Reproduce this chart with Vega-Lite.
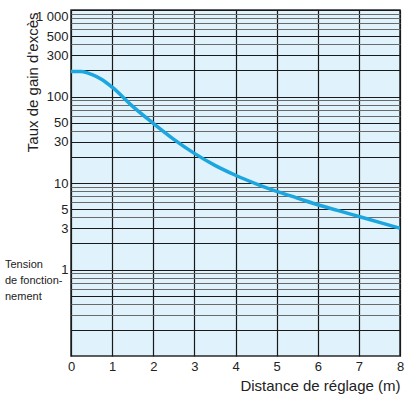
{
  "$schema": "https://vega.github.io/schema/vega-lite/v6.json",
  "width": 329,
  "height": 346,
  "autosize": {"type": "none"},
  "padding": {"left": 71, "top": 10, "right": 6, "bottom": 48},
  "background": "white",
  "config": {
    "font": "Liberation Sans",
    "view": {"fill": "#e0f2fb", "stroke": "#2a2a2a", "strokeWidth": 1.5},
    "axis": {"labelFont": "Liberation Sans", "titleFont": "Liberation Sans", "labelColor": "#222", "titleColor": "#222", "titleFontWeight": "normal"}
  },
  "layer": [
    {
      "data": {"values": [
        {"d": 0, "g": 195},
        {"d": 0.25, "g": 194},
        {"d": 0.5, "g": 180},
        {"d": 0.75, "g": 157},
        {"d": 1, "g": 128},
        {"d": 1.5, "g": 77},
        {"d": 2, "g": 49},
        {"d": 2.5, "g": 32},
        {"d": 3, "g": 22},
        {"d": 3.5, "g": 16},
        {"d": 4, "g": 12.3},
        {"d": 4.5, "g": 9.8},
        {"d": 5, "g": 8.0},
        {"d": 5.5, "g": 6.7},
        {"d": 6, "g": 5.6},
        {"d": 6.5, "g": 4.8},
        {"d": 7, "g": 4.1},
        {"d": 7.5, "g": 3.5},
        {"d": 8, "g": 3.0}
      ]},
      "mark": {"type": "line", "color": "#1ba6df", "strokeWidth": 3.5, "interpolate": "monotone", "clip": true},
      "encoding": {
        "x": {
          "field": "d", "type": "quantitative",
          "scale": {"domain": [0, 8], "nice": false, "zero": false},
          "axis": {
            "title": "Distance de réglage (m)",
            "values": [0, 1, 2, 3, 4, 5, 6, 7, 8],
            "format": "d",
            "domain": false,
            "ticks": false,
            "labelFontSize": 13,
            "labelPadding": 4,
            "labelFlush": false,
            "grid": true,
            "gridColor": "#1a1a1a",
            "gridWidth": 1.2,
            "gridOpacity": 1,
            "titleFontSize": 15,
            "titleAnchor": "end",
            "titleAlign": "right",
            "titlePadding": 5
          }
        },
        "y": {
          "field": "g", "type": "quantitative",
          "scale": {"type": "log", "domain": [0.1, 1000], "nice": false},
          "axis": {
            "title": "Taux de gain d'excès",
            "values": [0.2, 0.3, 0.4, 0.5, 0.6, 0.7, 0.8, 0.9, 1, 2, 3, 4, 5, 6, 7, 8, 9, 10, 20, 30, 40, 50, 60, 70, 80, 90, 100, 200, 300, 400, 500, 600, 700, 800, 900, 1000],
            "labelExpr": "datum.value == 1000 ? '1 000' : (indexof([1, 3, 5, 10, 30, 50, 100, 300, 500], datum.value) >= 0 ? datum.label : '')",
            "domain": false,
            "ticks": false,
            "labelFontSize": 13,
            "labelPadding": 3,
            "labelFlush": true,
            "labelFlushOffset": 0,
            "grid": true,
            "gridColor": {"condition": {"test": "indexof([0.2, 0.5, 1, 2, 3, 5, 10, 20, 30, 50, 100, 200, 300, 500, 1000], datum.value) >= 0", "value": "#1a1a1a"}, "value": "#6a6a6a"},
            "gridWidth": 1.2,
            "gridOpacity": 1,
            "titleFontSize": 15,
            "titleAnchor": "end",
            "titleAlign": "right",
            "titleAngle": -90,
            "titleBaseline": "alphabetic",
            "titleX": -34,
            "titleY": 2
          }
        }
      }
    },
    {
      "data": {"values": [{"d": 0, "g": 1, "t": "Tension|de fonction-|nement"}]},
      "mark": {"type": "text", "lineBreak": "|", "align": "left", "baseline": "top", "fontSize": 11, "lineHeight": 16, "dx": -66, "dy": -11, "color": "#222", "font": "Liberation Sans"},
      "encoding": {
        "x": {"field": "d", "type": "quantitative"},
        "y": {"field": "g", "type": "quantitative"},
        "text": {"field": "t", "type": "nominal"}
      }
    }
  ]
}
